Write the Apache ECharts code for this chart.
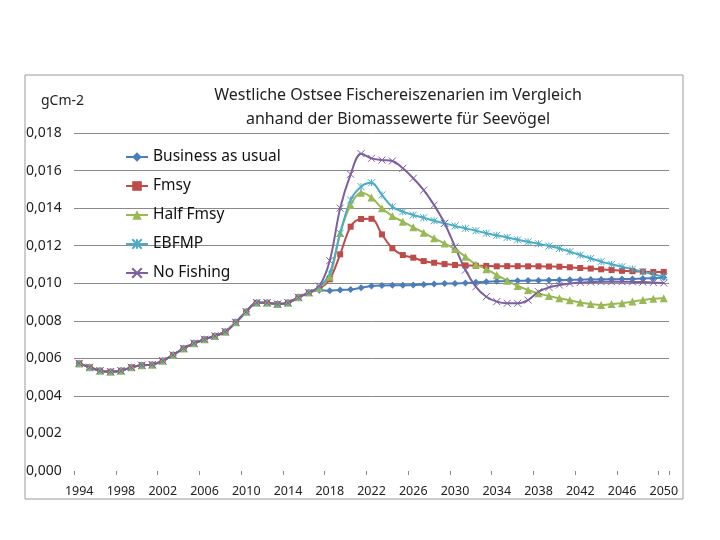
<!DOCTYPE html>
<html>
<head>
<meta charset="utf-8">
<script src="https://cdn.jsdelivr.net/npm/echarts@6/dist/echarts.min.js"></script>
<style>html,body{margin:0;padding:0;background:#fff}#c{width:720px;height:540px}</style>
</head>
<body>
<div id="c"></div>
<script>
var years = ['1994','1995','1996','1997','1998','1999','2000','2001','2002','2003','2004','2005','2006','2007','2008','2009','2010','2011','2012','2013','2014','2015','2016','2017','2018','2019','2020','2021','2022','2023','2024','2025','2026','2027','2028','2029','2030','2031','2032','2033','2034','2035','2036','2037','2038','2039','2040','2041','2042','2043','2044','2045','2046','2047','2048','2049','2050'];

// shared values 1994-2016 (identical for all scenarios)
var sharedPast = [0.00573,0.00552,0.00534,0.00529,0.00534,0.00552,0.00563,0.00566,0.00587,0.00618,0.00653,0.00680,0.00701,0.00719,0.00742,0.00792,0.00848,0.00896,0.00896,0.00889,0.00896,0.00925,0.00950];

// scenario values 2017-2050
var businessAsUsual = [0.00962,0.00960,0.00964,0.00966,0.00976,0.00985,0.00988,0.00989,0.00989,0.00990,0.00993,0.00996,0.00998,0.00999,0.01001,0.01005,0.01008,0.01010,0.01012,0.01013,0.01014,0.01015,0.01016,0.01017,0.01018,0.01019,0.01020,0.01020,0.01021,0.01022,0.01023,0.01025,0.01027,0.01030];
var fmsy = [0.00970,0.01021,0.01154,0.01301,0.01342,0.01343,0.01260,0.01186,0.01150,0.01136,0.01118,0.01109,0.01102,0.01097,0.01095,0.01093,0.01092,0.01090,0.01091,0.01091,0.01090,0.01090,0.01089,0.01088,0.01085,0.01081,0.01078,0.01074,0.01070,0.01066,0.01064,0.01062,0.01060,0.01060];
var halfFmsy = [0.00975,0.01035,0.01267,0.01416,0.01482,0.01457,0.01399,0.01358,0.01328,0.01298,0.01269,0.01239,0.01212,0.01182,0.01141,0.01100,0.01075,0.01044,0.01013,0.00985,0.00964,0.00946,0.00932,0.00920,0.00909,0.00897,0.00889,0.00884,0.00889,0.00894,0.00902,0.00910,0.00917,0.00920];
var ebfmp = [0.00980,0.01053,0.01266,0.01443,0.01514,0.01535,0.01470,0.01407,0.01381,0.01363,0.01349,0.01333,0.01319,0.01305,0.01292,0.01280,0.01266,0.01255,0.01244,0.01231,0.01221,0.01210,0.01198,0.01185,0.01168,0.01150,0.01132,0.01115,0.01101,0.01088,0.01075,0.01061,0.01048,0.01035];
var noFishing = [0.00985,0.01120,0.01400,0.01580,0.01690,0.01665,0.01656,0.01651,0.01612,0.01559,0.01496,0.01416,0.01319,0.01194,0.01070,0.00981,0.00928,0.00902,0.00893,0.00893,0.00910,0.00955,0.00978,0.00990,0.00999,0.01004,0.01006,0.01008,0.01008,0.01008,0.01007,0.01006,0.01004,0.01001];

var seriesNames = ['Business as usual','Fmsy','Half Fmsy','EBFMP','No Fishing'];
var yTicks = [0,0.002,0.004,0.006,0.008,0.010,0.012,0.014,0.016,0.018];

var FONT = 'Noto Sans';
var colors = ['#4A7EBB','#BE4B48','#98B954','#4BACC6','#7D5FA0'];
var tails = [businessAsUsual, fmsy, halfFmsy, ebfmp, noFishing];
var symbols = ['diamond','rect','triangle','path://M0,0 L10,10 M10,0 L0,10 M5,0 L5,10','path://M0,0 L10,10 M10,0 L0,10'];
var symbolSizes = [7,6,8,7,7];

var series = seriesNames.map(function(name, i){
  var isStroke = i >= 3;
  return {
    name: name,
    type: 'line',
    data: sharedPast.concat(tails[i]),
    smooth: 0.35,
    symbol: symbols[i],
    symbolSize: symbolSizes[i],
    showSymbol: true,
    showAllSymbol: true,
    lineStyle: {color: colors[i], width: 2},
    itemStyle: isStroke ? {color: 'rgba(0,0,0,0)', borderColor: colors[i], borderWidth: 1} : {color: colors[i], borderWidth: 0},
    emphasis: {disabled: true},
    animation: false
  };
});

var gridColors = yTicks.map(function(v){ return v < 0.003 ? 'rgba(0,0,0,0)' : '#8a8a8a'; });

var chart = echarts.init(document.getElementById('c'));
chart.setOption({
  backgroundColor: '#fff',
  animation: false,
  color: colors,
  textStyle: {fontFamily: FONT},
  title: {
    text: 'Westliche Ostsee Fischereiszenarien im Vergleich\nanhand der Biomassewerte für Seevögel',
    left: 393, top: 78, textAlign: 'center',
    textStyle: {fontFamily: FONT, fontSize: 16, fontWeight: 'normal', color: '#222', lineHeight: 24}
  },
  legend: {
    orient: 'vertical', left: 120, top: 144,
    itemWidth: 22, itemHeight: 12, itemGap: 13,
    data: seriesNames,
    textStyle: {fontFamily: FONT, fontSize: 15.5, color: '#111', lineHeight: 16}
  },
  grid: {left: 74, right: 51, top: 133, bottom: 69, containLabel: false},
  xAxis: {
    type: 'category', data: years, boundaryGap: true,
    axisLine: {show: false},
    axisTick: {show: true, length: 4, lineStyle: {color: '#8a8a8a'}},
    axisLabel: {interval: 3, margin: 14, fontFamily: FONT, fontSize: 12.5, color: '#222'},
    splitLine: {show: false}
  },
  yAxis: {
    type: 'value', min: 0, max: 0.018, interval: 0.002,
    axisLine: {show: false}, axisTick: {show: false},
    axisLabel: {align: 'left', margin: 48, fontFamily: FONT, fontSize: 14, color: '#222',
      formatter: function(v){ return v.toFixed(3).replace('.', ','); }},
    splitLine: {show: true, lineStyle: {color: gridColors, width: 1}}
  },
  graphic: [
    {type: 'rect', shape: {x: 25, y: 75, width: 658, height: 424}, style: {fill: 'none', stroke: '#9a9a9a', lineWidth: 1}, silent: true},
    {type: 'text', left: 41, top: 94, style: {text: 'gCm-2', font: '14px "Noto Sans"', fill: '#222'}, silent: true}
  ],
  series: series
});
</script>
</body>
</html>
